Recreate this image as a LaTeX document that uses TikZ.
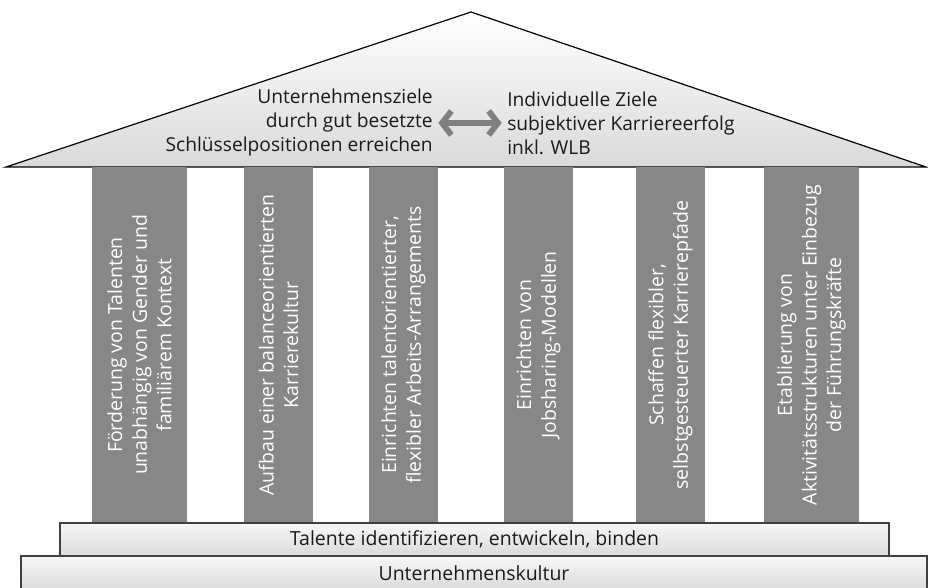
\documentclass[tikz,border=0pt]{standalone}
\usepackage{fontspec}
\setmainfont{Open Sans}
\usetikzlibrary{arrows.meta}
\definecolor{pillargray}{HTML}{878787}
\definecolor{arrowgray}{HTML}{7F7F7F}
\definecolor{roofbot}{HTML}{D9D9D9}
\definecolor{roottop}{HTML}{F7F7F7}
\definecolor{basebot}{HTML}{DADADA}
\definecolor{boxline}{HTML}{404040}
\definecolor{txt}{HTML}{1A1A1A}
\tikzset{
  pillar/.style={fill=pillargray, text=white, rotate=90, inner sep=0pt,
    minimum width=267pt, align=center,
    font=\fontsize{14.6}{18.5}\selectfont},
  basebox/.style={draw=boxline, line width=1.1pt, top color=roottop, bottom color=basebot,
    inner sep=0pt, text=txt, font=\fontsize{14.6}{17}\selectfont},
  rooftext/.style={inner sep=0pt, text=txt, font=\fontsize{14.4}{18}\selectfont},
  twoway/.style={draw=arrowgray, line width=4.4pt,
    {Straight Barb[length=7pt,width=18pt]}-{Straight Barb[length=7pt,width=18pt]},
    shorten <=4pt, shorten >=4pt}
}
\begin{document}
\begin{tikzpicture}[x=0.75pt,y=-0.75pt]
\useasboundingbox (0,0) rectangle (928,588);
% roof
\coordinate (rl) at (6,167);
\coordinate (ra) at (471,12);
\coordinate (rr) at (926,167);
\shade[top color=white, bottom color=roofbot, draw=black, line width=0.9pt]
  (rl) -- (ra) -- (rr) -- cycle;
% roof texts
\node[rooftext, anchor=east, align=right] (lt) at (433,123)
  {Unternehmensziele\\durch gut besetzte\\Schlüsselpositionen erreichen};
\node[rooftext, anchor=west, align=left] (rt) at (507,123)
  {Individuelle Ziele\\subjektiver Karriereerfolg\\inkl. WLB};
\draw[twoway] (lt.east) -- (rt.west);
% pillars
\node[pillar, minimum height=71.25pt] (p1) at (139.5,345)
  {Förderung von Talenten\\unabhängig von Gender und\\familiärem Kontext};
\node[pillar, minimum height=51.75pt] (p2) at (278.5,345)
  {Aufbau einer balanceorientierten\\Karrierekultur};
\node[pillar, minimum height=51.75pt] (p3) at (403.5,345)
  {Einrichten talentorientierter,\\flexibler Arbeits-Arrangements};
\node[pillar, minimum height=51.75pt] (p4) at (538.5,345)
  {Einrichten von\\Jobsharing-Modellen};
\node[pillar, minimum height=51.75pt] (p5) at (670.5,345)
  {Schaffen flexibler,\\selbstgesteuerter Karrierepfade};
\node[pillar, minimum height=71.25pt] (p6) at (811.5,345)
  {Etablierung von\\Aktivitätsstrukturen unter Einbezug\\der Führungskräfte};
% base
\node[basebox, minimum width=621.75pt, minimum height=24.75pt] (tal) at (474.5,539.5)
  {Talente identifizieren, entwickeln, binden};
\node[basebox, minimum width=679.5pt, minimum height=26.25pt] (kul) at (474,573.5)
  {Unternehmenskultur};
\end{tikzpicture}
\end{document}
